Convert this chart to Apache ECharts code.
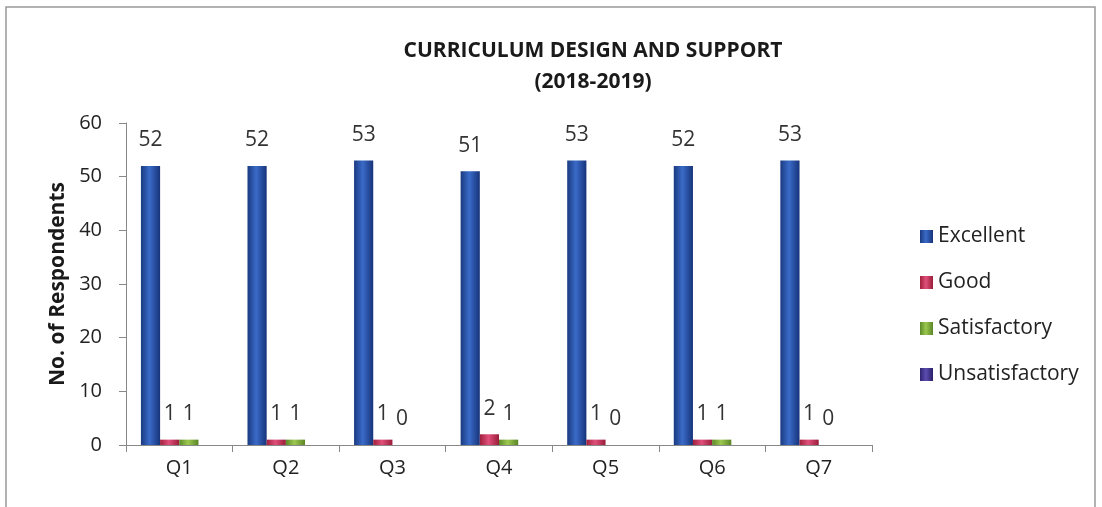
<!DOCTYPE html>
<html><head><meta charset="utf-8">
<script src="https://cdn.jsdelivr.net/npm/echarts@6/dist/echarts.min.js"></script>
<style>html,body{margin:0;padding:0;background:#fff}#c{width:1102px;height:507px}</style>
</head><body><div id="c"></div>
<script>
const categories = ['Q1','Q2','Q3','Q4','Q5','Q6','Q7'];
const excellent = [52,52,53,51,53,52,53];
const good = [1,1,1,2,1,1,1];
const satisfactory = [1,1,0,1,0,1,0];
const unsatisfactory = [0,0,0,0,0,0,0];
const yTicks = {min:0, max:60, interval:10};

const FONT = '"Open Sans", Lato, sans-serif';
const chart = echarts.init(document.getElementById('c'));
function grad(c1,c2,c3){
  return new echarts.graphic.LinearGradient(0,0,1,0,[
    {offset:0,color:c1},{offset:0.45,color:c2},{offset:1,color:c3}]);
}
const lbl = {show:true, position:'top', distance:15, fontSize:21, color:'#333', fontFamily:FONT};
chart.setOption({
  animation:false,
  textStyle:{fontFamily:FONT},
  title:{
    text:'CURRICULUM DESIGN AND SUPPORT\n(2018-2019)',
    left:588, textAlign:'center', top:31,
    textStyle:{fontSize:21, fontWeight:'bold', color:'#1a1a1a', lineHeight:31, fontFamily:FONT}
  },
  graphic:[{type:'polyline', shape:{points:[[6,507],[6,7],[1095,7],[1095,507]]}, style:{stroke:'#999', lineWidth:1.5, fill:null}}],
  legend:{
    orient:'vertical', left:915, top:221, itemGap:25, itemWidth:13, itemHeight:13,
    icon:'rect',
    textStyle:{fontSize:21, color:'#222', fontFamily:FONT}
  },
  grid:{left:126, right:230, top:123, bottom:62},
  xAxis:{
    type:'category', data:categories,
    axisLine:{lineStyle:{color:'#888'}},
    axisTick:{show:true, length:7, lineStyle:{color:'#888'}},
    axisLabel:{fontSize:20, color:'#222', margin:13, fontFamily:FONT}
  },
  yAxis:{
    type:'value', min:yTicks.min, max:yTicks.max, interval:yTicks.interval,
    name:'No. of Respondents', nameLocation:'middle', nameGap:54,
    nameTextStyle:{fontSize:21, fontWeight:'bold', color:'#1a1a1a', fontFamily:FONT},
    axisLine:{show:true, lineStyle:{color:'#888'}},
    axisTick:{show:true, length:7, lineStyle:{color:'#888'}},
    splitLine:{show:false},
    axisLabel:{fontSize:20, color:'#222', margin:24, fontFamily:FONT}
  },
  series:[
    {name:'Excellent', type:'bar', data:excellent, barGap:'0%', barCategoryGap:'28%',
      itemStyle:{color:grad('#1a3a80','#3a6bc8','#17337a')}, label:lbl},
    {name:'Good', type:'bar', data:good,
      itemStyle:{color:grad('#a0203c','#e0507a','#9a1d3a')}, label:lbl},
    {name:'Satisfactory', type:'bar', data:satisfactory,
      itemStyle:{color:grad('#5c8a28','#9cc850','#5a8526')}, label:lbl},
    {name:'Unsatisfactory', type:'bar', data:unsatisfactory,
      itemStyle:{color:grad('#2e2470','#5c4cb0','#2a2068')}, label:{show:false}}
  ]
});
</script></body></html>
